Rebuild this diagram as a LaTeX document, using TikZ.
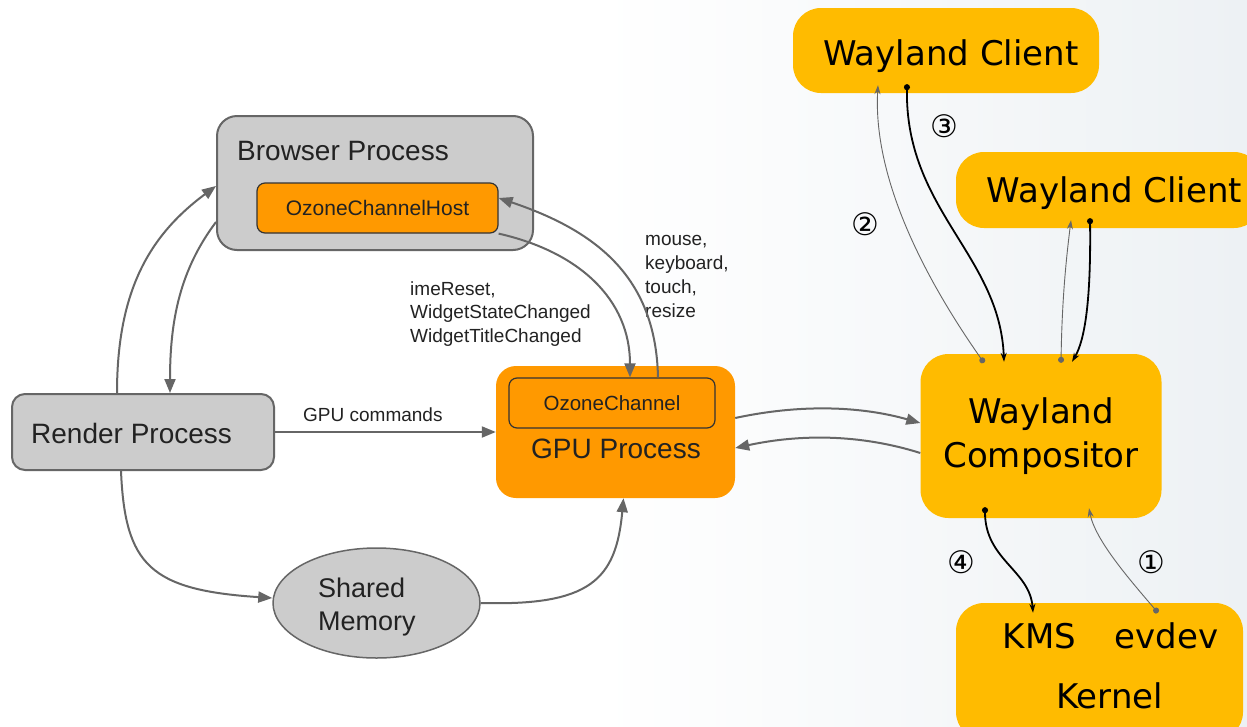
\documentclass[tikz,border=0pt]{standalone}
\usepackage{fontspec}
\setmainfont{Liberation Sans}
\newfontfamily\dvfont{DejaVu Sans}
\usetikzlibrary{arrows.meta,shapes.geometric,calc}
\definecolor{grayfill}{HTML}{CCCCCC}
\definecolor{grayline}{HTML}{666666}
\definecolor{orng}{HTML}{FF9900}
\definecolor{amber}{HTML}{FFBB00}
\definecolor{bgright}{HTML}{EDF1F4}
\definecolor{darkline}{HTML}{333333}
\definecolor{txt}{HTML}{222222}
\newcommand\fsXL{\fontsize{28}{34}\selectfont}
\newcommand\fsMid{\fontsize{21}{25}\selectfont}
\newcommand\fsOz{\fontsize{20.5}{25}\selectfont}
\newcommand\fsShm{\fontsize{27}{33}\selectfont}
\newcommand\fsLbl{\fontsize{19}{23.7}\selectfont}
\newcommand\fsWl{\dvfont\fontsize{34}{44}\selectfont}
\newcommand\fsNum{\dvfont\fontsize{31}{31}\selectfont}
\begin{document}
\begin{tikzpicture}[x=1pt,y=-1pt,
  graybox/.style={draw=grayline,line width=2pt,fill=grayfill,inner sep=0pt},
  orbox/.style={fill=orng,inner sep=0pt},
  wlbox/.style={fill=amber,inner sep=0pt,rounded corners=28pt},
  garrow/.style={draw=grayline,line width=2pt,-{Triangle[length=14pt,width=11pt]}},
  wthin/.style={draw=black!60,line width=0.9pt,{Circle[length=6pt]}-{Stealth[length=9pt,width=6pt]}},
  wthick/.style={draw=black,line width=1.8pt,{Circle[length=6pt]}-{Stealth[length=9pt,width=6pt]}},
  numlbl/.style={font=\fsNum,inner sep=0pt}
]
\useasboundingbox (0,0) rectangle (1247,726);
\fill[white] (0,0) rectangle (1247,726);
\shade[left color=white,right color=bgright] (600,0) rectangle (1247,726);

% left side boxes
\node[graybox,rounded corners=20pt,minimum width=316pt,minimum height=134pt] (browser) at (375,183) {};
\node[anchor=base west,font=\fsXL,inner sep=0pt,text=txt] (browserlbl) at (237,160) {Browser Process};
\node[orbox,draw=darkline,line width=1.2pt,rounded corners=8pt,minimum width=241pt,minimum height=50pt,font=\fsMid,text=txt] (host) at (377.5,208) {OzoneChannelHost};

\node[graybox,rounded corners=13pt,minimum width=262pt,minimum height=76pt] (render) at (143,432) {};
\node[anchor=base west,font=\fsXL,inner sep=0pt,text=txt] (renderlbl) at (31,443) {Render Process};

\node[orbox,rounded corners=20pt,minimum width=239pt,minimum height=132pt] (gpu) at (615.5,432) {};
\node[orbox,draw=darkline,line width=1.2pt,rounded corners=8pt,minimum width=206pt,minimum height=50pt,font=\fsOz,text=txt] (ozch) at (612,403) {OzoneChannel};
\node[anchor=base,font=\fsXL,inner sep=0pt,text=txt] (gpulbl) at (616,458) {GPU Process};

\node[ellipse,draw=grayline,line width=1.5pt,fill=grayfill,minimum width=207pt,minimum height=110pt,inner sep=0pt] (shm) at (376.5,603) {};
\node[anchor=base west,font=\fsShm,align=left,inner sep=0pt,text=txt] (shmlbl) at (318,630) {Shared\\Memory};

% right side boxes
\node[wlbox,minimum width=306pt,minimum height=85pt] (wc1) at (946,50.5) {};
\node[anchor=base,font=\fsWl,inner sep=0pt] (wc1lbl) at (951,65) {Wayland Client};
\node[wlbox,minimum width=306pt,minimum height=76pt] (wc2) at (1109,190) {};
\node[anchor=base,font=\fsWl,inner sep=0pt] (wc2lbl) at (1114.5,202) {Wayland Client};
\node[wlbox,minimum width=241pt,minimum height=164pt,font=\fsWl,align=center] (comp) at (1041,436) {Wayland\\Compositor};
\node[wlbox,minimum width=287pt,minimum height=137pt] (kernel) at (1099.5,671.5) {};
\node[anchor=base,font=\fsWl,inner sep=0pt] (kms) at (1039.5,648) {KMS};
\node[anchor=base,font=\fsWl,inner sep=0pt] (evdev) at (1166.5,648) {evdev};
\node[anchor=base,font=\fsWl,inner sep=0pt] (kernellbl) at (1109.5,708) {Kernel};

% labels
\node[anchor=base west,font=\fsLbl,inner sep=0pt,text=txt] (gpucmd) at (303,421) {GPU commands};
\node[anchor=base west,font=\fontsize{19}{23.5}\selectfont,align=left,inner sep=0pt,text=txt] (imelbl) at (410,342) {imeReset,\\WidgetStateChanged\\WidgetTitleChanged};
\node[anchor=base west,font=\fontsize{19}{24}\selectfont,align=left,inner sep=0pt,text=txt] (mouselbl) at (645,317) {mouse,\\keyboard,\\touch,\\resize};

% left connectors
\draw[garrow] ($(render.north)+(-26,0)$) .. controls (117,290) and (150,235) .. ($(browser.west)+(0,3)$);
\draw[garrow] ($(browser.west)+(0,39)$) .. controls (180,270) and (170,320) .. ($(render.north)+(27,0)$);
\draw[garrow] (render.east) -- (gpu.west |- render.east);
\draw[garrow] ($(render.south)+(-22,0)$) .. controls (125,565) and (150,590) .. ($(shm.west)+(0,-5)$);
\draw[garrow] (shm.east) .. controls (590,606) and (616,580) .. ($(gpu.south)+(8,0)$);
\draw[garrow] (host.south east) .. controls (580,252) and (630,300) .. ($(ozch.north)+(18,0)$);
\draw[garrow] ($(ozch.north)+(46,0)$) .. controls (656,280) and (600,232) .. ($(host.east)+(0,-10)$);
\draw[garrow] ($(gpu.east)+(0,-14)$) .. controls (800,404) and (860,406) .. ($(comp.west)+(0,-13)$);
\draw[garrow] ($(comp.west)+(0,17)$) .. controls (860,434) and (800,434) .. ($(gpu.east)+(0,16)$);

% right connectors
\draw[wthin] ($(comp.north)+(-57,9)$) .. controls (940,300) and (872,190) .. ($(wc1.south)+(-68,-8)$);
\draw[wthick] ($(wc1.south)+(-39,-9)$) .. controls (905,210) and (1000,255) .. ($(comp.north)+(-37,8)$);
\draw[wthin] ($(comp.north)+(20,9)$) .. controls (1062,300) and (1066,260) .. ($(wc2.south)+(-38,-8)$);
\draw[wthick] ($(wc2.south)+(-19,-10)$) .. controls (1091,300) and (1085,340) .. ($(comp.north)+(31,8)$);
\draw[wthick] ($(comp.south)+(-56,-11)$) .. controls (985,560) and (1030,570) .. ($(kernel.north)+(-66.5,10)$);
\draw[wthin] ($(kernel.north)+(58.5,10)$) .. controls (1130,580) and (1095,540) .. ($(comp.south)+(48,-10)$);

\node[numlbl] (n3) at (944.5,126) {③};
\node[numlbl] (n2) at (865,224) {②};
\node[numlbl] (n4) at (961,562) {④};
\node[numlbl] (n1) at (1151,562) {①};
\end{tikzpicture}
\end{document}
